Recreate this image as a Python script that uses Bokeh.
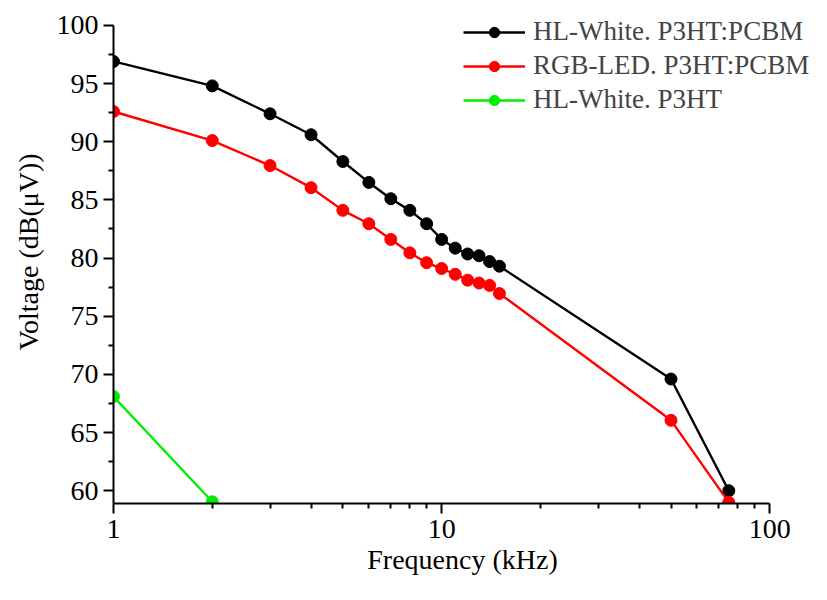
from bokeh.plotting import figure
from bokeh.models import FixedTicker, Legend, LegendItem, Range1d
from bokeh.embed import file_html
from bokeh.resources import INLINE

freq = [1, 2, 3, 4, 5, 6, 7, 8, 9, 10, 11, 12, 13, 14, 15, 50, 75]
hl_white_pcbm = [96.9, 94.8, 92.4, 90.6, 88.3, 86.5, 85.1, 84.1, 82.95, 81.6,
                 80.85, 80.35, 80.2, 79.7, 79.3, 69.6, 60.0]
rgb_led_pcbm = [92.6, 90.1, 87.95, 86.05, 84.1, 82.95, 81.6, 80.45, 79.6, 79.1,
                78.6, 78.1, 77.85, 77.65, 76.95, 66.05, 59.0]
freq_p3ht = [1, 2]
hl_white_p3ht = [68.1, 59.05]

series_labels = ["HL-White. P3HT:PCBM", "RGB-LED. P3HT:PCBM", "HL-White. P3HT"]
x_major = [1, 10, 100]
x_minor = [2, 3, 4, 5, 6, 7, 8, 9, 20, 30, 40, 50, 60, 70, 80, 90]
y_major = [60, 65, 70, 75, 80, 85, 90, 95, 100]
y_minor = [62.5, 67.5, 72.5, 77.5, 82.5, 87.5, 92.5, 97.5]

FONT = "Liberation Serif"

p = figure(width=811, height=584, x_axis_type="log",
           x_range=Range1d(1, 134), y_range=Range1d(58.9, 102.14),
           output_backend="svg", toolbar_location=None,
           min_border_left=113, min_border_right=0,
           min_border_top=0, min_border_bottom=81)

p.grid.visible = False
p.outline_line_color = None
p.background_fill_color = "white"
p.border_fill_color = "white"

colors = ["black", "#ff0000", "#00ee00"]
data = [(freq, hl_white_pcbm), (freq, rgb_led_pcbm), (freq_p3ht, hl_white_p3ht)]
items = []
for (xs, ys), c, lab in zip(data, colors, series_labels):
    ln = p.line(xs, ys, line_color=c, line_width=2.4)
    sc = p.scatter(xs, ys, size=12, fill_color=c, line_color=c)
    items.append(LegendItem(label=lab, renderers=[ln, sc]))

legend = Legend(items=items, location=(350, 388))
legend.border_line_color = None
legend.background_fill_alpha = 0
legend.label_text_font = FONT
legend.label_text_font_size = "27px"
legend.glyph_width = 62
legend.glyph_height = 26
legend.label_standoff = 8
legend.spacing = 3
legend.padding = 0
legend.margin = 0
p.add_layout(legend, "center")

p.xaxis.ticker = FixedTicker(ticks=x_major, minor_ticks=x_minor)
p.yaxis.ticker = FixedTicker(ticks=y_major, minor_ticks=y_minor)
p.xaxis.major_label_overrides = {1: "1", 10: "10", 100: "100"}
p.xaxis.bounds = (1, 100)
p.yaxis.bounds = (58.9, 100)

for ax in (p.xaxis, p.yaxis):
    ax.axis_line_width = 2
    ax.axis_line_color = "black"
    ax.major_tick_line_width = 2
    ax.minor_tick_line_width = 2
    ax.major_tick_out = 10
    ax.major_tick_in = 0
    ax.minor_tick_out = 5
    ax.minor_tick_in = 0
    ax.major_label_text_font = FONT
    ax.major_label_text_font_size = "28px"
    ax.major_label_text_color = "black"
    ax.axis_label_text_font = FONT
    ax.axis_label_text_font_size = "28px"
    ax.axis_label_text_font_style = "normal"
    ax.axis_label_text_color = "black"

p.xaxis.axis_label = "Frequency (kHz)"
p.yaxis.axis_label = "Voltage (dB(\u03bcV))"
p.xaxis.major_label_standoff = 6
p.yaxis.major_label_standoff = 5
p.xaxis.axis_label_standoff = 3
p.yaxis.axis_label_standoff = 10

open("out.html", "w").write(file_html(p, INLINE))
